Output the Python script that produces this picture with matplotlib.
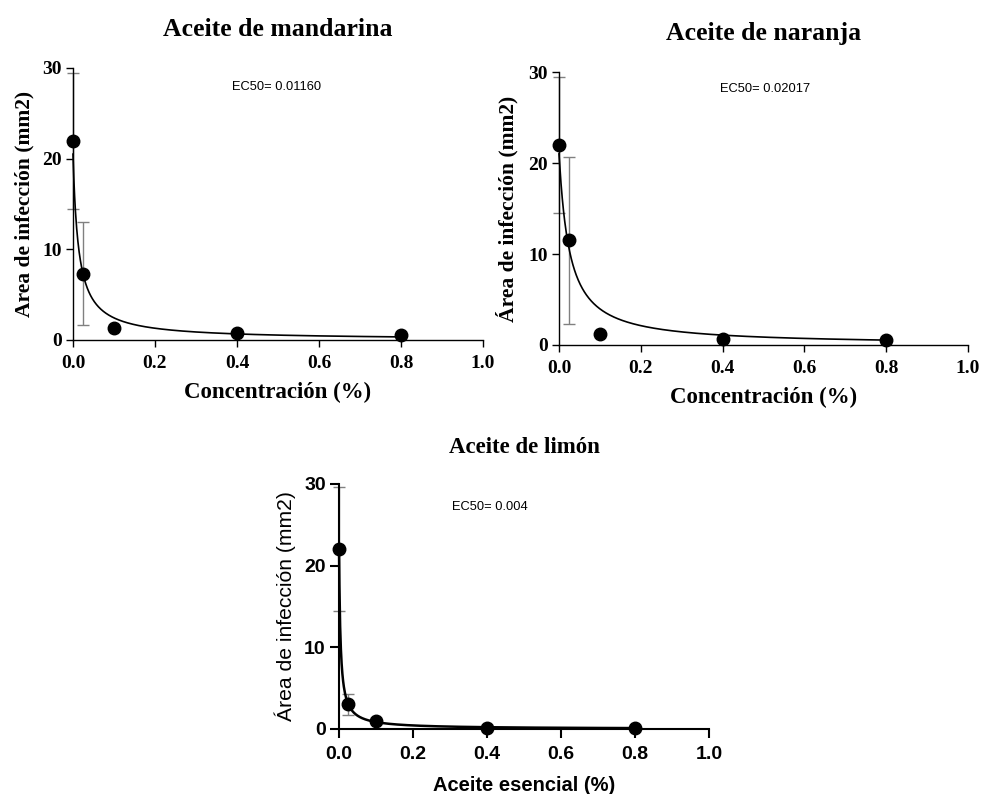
import numpy as np
import matplotlib.pyplot as plt

# concentrations (%) shared by the three oils
conc = [0.0, 0.025, 0.1, 0.4, 0.8]

# mean infection area (mm2) and error (half-length of bar)
mandarina_y = [22.0, 7.3, 1.3, 0.8, 0.5]
mandarina_err = [7.5, 5.7, 0.0, 0.0, 0.0]
naranja_y = [22.0, 11.5, 1.2, 0.7, 0.6]
naranja_err = [7.5, 9.2, 0.0, 0.0, 0.0]
limon_y = [22.0, 3.0, 1.0, 0.1, 0.1]
limon_err = [7.6, 1.25, 0.0, 0.0, 0.0]

# curve parameters (top, half-point, slope)
mandarina_fit = (20.5, 0.0135, 1.0)
naranja_fit = (21.0, 0.025, 1.05)
limon_fit = (22.0, 0.004, 1.0)

ec50_labels = ["EC50= 0.01160", "EC50= 0.02017", "EC50= 0.004"]
titles = ["Aceite de mandarina", "Aceite de naranja", "Aceite de limón"]
xticks = [0.0, 0.2, 0.4, 0.6, 0.8, 1.0]
yticks = [0, 10, 20, 30]

SERIF = "Liberation Serif"
SANS = "Liberation Sans"


def curve(x, top, c, h):
    return top / (1 + (x / c) ** h)


def draw(ax, y, err, fit, ec50, ec_pos, title, xlabel, ylabel, font, lw, clw,
         ticklen, sizes, ylab_w, title_pad, ylab_x, xpad):
    tick_fs, xlab_fs, ylab_fs, title_fs = sizes
    xs = np.linspace(0, 0.8, 800)
    ax.plot(xs, curve(xs, *fit), color="black", lw=clw, zorder=3, clip_on=False)
    ax.errorbar(conc, y, yerr=err, fmt="none", ecolor="#808080", elinewidth=1.0,
                capsize=4.5, capthick=1.0, zorder=2, clip_on=False)
    ax.plot(conc, y, "o", color="black", ms=9, zorder=4, clip_on=False)
    ax.set_xlim(0, 1.0)
    ax.set_ylim(0, 30)
    ax.set_xticks(xticks)
    ax.set_xticklabels([f"{t:.1f}" for t in xticks])
    ax.set_yticks(yticks)
    ax.spines["top"].set_visible(False)
    ax.spines["right"].set_visible(False)
    for s in ("left", "bottom"):
        ax.spines[s].set_linewidth(lw)
    ax.tick_params(width=lw, length=ticklen, direction="out")
    ax.tick_params(axis="x", pad=6)
    ax.tick_params(axis="y", pad=3)
    for lab in ax.get_xticklabels() + ax.get_yticklabels():
        lab.set_fontfamily(font)
        lab.set_fontweight("bold")
        lab.set_fontsize(tick_fs)
    ax.set_xlabel(xlabel, fontfamily=font, fontweight="bold", fontsize=xlab_fs,
                  labelpad=xpad)
    ax.set_ylabel(ylabel, fontfamily=font, fontweight=ylab_w, fontsize=ylab_fs)
    ax.yaxis.set_label_coords(ylab_x, 0.5)
    ax.set_title(title, fontfamily=SERIF, fontweight="bold", fontsize=title_fs,
                 pad=title_pad)
    ax.text(ec_pos[0], ec_pos[1], ec50, fontfamily=SANS, fontsize=9.3,
            ha="center", va="center")


fig = plt.figure(figsize=(9.85, 7.94), dpi=100)

ax1 = fig.add_axes([0.0741, 0.5718, 0.4162, 0.3426])
draw(ax1, mandarina_y, mandarina_err, mandarina_fit, ec50_labels[0], (0.497, 27.9),
     titles[0], "Concentración (%)", "Area de infección (mm2)", SERIF, 1.0, 1.2, 5,
     (14, 16.5, 15.5, 18.5), "bold", 23, -0.095, 7)

ax2 = fig.add_axes([0.5675, 0.5655, 0.4152, 0.3438])
draw(ax2, naranja_y, naranja_err, naranja_fit, ec50_labels[1], (0.504, 28.1),
     titles[1], "Concentración (%)", "Área de infección (mm2)", SERIF, 1.0, 1.2, 5,
     (14, 16.5, 15.5, 18.5), "bold", 23, -0.098, 7)

ax3 = fig.add_axes([0.3442, 0.0819, 0.3756, 0.3086])
draw(ax3, limon_y, limon_err, limon_fit, ec50_labels[2], (0.408, 27.2),
     titles[2], "Aceite esencial (%)", "Área de infección (mm2)", SANS, 1.5, 1.8, 6.5,
     (14, 14.5, 15.2, 16.5), "normal", 22, -0.117, 9)

fig.savefig("out.png", dpi=100)
